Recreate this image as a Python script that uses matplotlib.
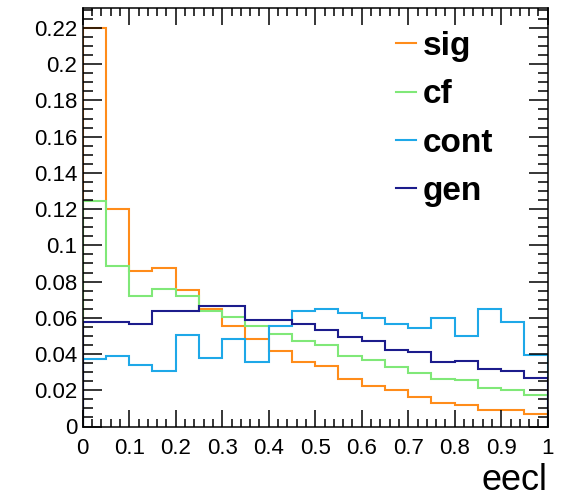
import numpy as np
import matplotlib
matplotlib.use("Agg")
import matplotlib.pyplot as plt
from matplotlib.ticker import MultipleLocator, FuncFormatter

plt.rcParams['font.family'] = ['Liberation Sans', 'DejaVu Sans']

edges = np.linspace(0.0, 1.0, 21)
series_names = ["sig", "cf", "cont", "gen"]
sig = [0.220, 0.120, 0.086, 0.0875, 0.0755, 0.065, 0.0553, 0.0482, 0.0414, 0.0356,
       0.0332, 0.0260, 0.0224, 0.0199, 0.0164, 0.0128, 0.0116, 0.0093, 0.0090, 0.0068]
cf = [0.1244, 0.0885, 0.0721, 0.0758, 0.0722, 0.0637, 0.0602, 0.0556, 0.0509, 0.0472,
      0.0448, 0.0389, 0.0369, 0.0328, 0.0295, 0.0262, 0.0256, 0.0214, 0.0199, 0.0175]
cont = [0.0375, 0.0387, 0.0341, 0.0306, 0.0507, 0.0378, 0.0483, 0.0356, 0.0557, 0.0638,
        0.0649, 0.0625, 0.0601, 0.0568, 0.0544, 0.0601, 0.0498, 0.0649, 0.0576, 0.0393]
gen = [0.0577, 0.0577, 0.0568, 0.0638, 0.0638, 0.0664, 0.0664, 0.0590, 0.0590, 0.0568,
       0.0531, 0.0494, 0.0472, 0.0424, 0.0413, 0.0356, 0.0363, 0.0315, 0.0304, 0.0269]
colors = ["#ff8c1a", "#80e878", "#1ea8e8", "#1c1c8c"]
x_label = "eecl"

W, H = 566, 499
fig = plt.figure(figsize=(W / 100, H / 100), dpi=100)
ax = fig.add_axes([82.7 / W, 1 - 426.5 / H, (547.7 - 82.7) / W, (426.5 - 8) / H])

for name, vals, c in zip(series_names, [sig, cf, cont, gen], colors):
    ax.stairs(vals, edges, baseline=0, color=c, lw=1.5, label=name)

ax.set_xlim(0, 1)
ax.set_ylim(0, 0.231)

ax.xaxis.set_major_locator(MultipleLocator(0.1))
ax.xaxis.set_minor_locator(MultipleLocator(0.02))
ax.yaxis.set_major_locator(MultipleLocator(0.02))
ax.yaxis.set_minor_locator(MultipleLocator(0.005))
fmt = FuncFormatter(lambda v, p: "%g" % round(v, 4))
ax.xaxis.set_major_formatter(fmt)
ax.yaxis.set_major_formatter(fmt)

ax.tick_params(axis='both', which='both', direction='in', top=True, right=True,
               width=1.1, labelsize=16, colors='black')
ax.tick_params(axis='x', which='major', length=12.5, pad=8)
ax.tick_params(axis='x', which='minor', length=6)
ax.tick_params(axis='y', which='major', length=14, pad=4)
ax.tick_params(axis='y', which='minor', length=7)
for s in ax.spines.values():
    s.set_linewidth(1.1)

fig.text(547 / W, 1 - 490 / H, x_label, fontsize=26, ha='right', va='baseline')

leg = ax.legend(loc='upper left', bbox_to_anchor=(396 / W, 1 - 31 / H),
                bbox_transform=fig.transFigure, frameon=False,
                prop={'weight': 'bold', 'size': 24}, handlelength=0.6,
                handletextpad=0.2, labelspacing=0.52, borderpad=0, borderaxespad=0)
for line in leg.get_lines():
    line.set_linewidth(1.5)

fig.savefig("out.png", dpi=100)
